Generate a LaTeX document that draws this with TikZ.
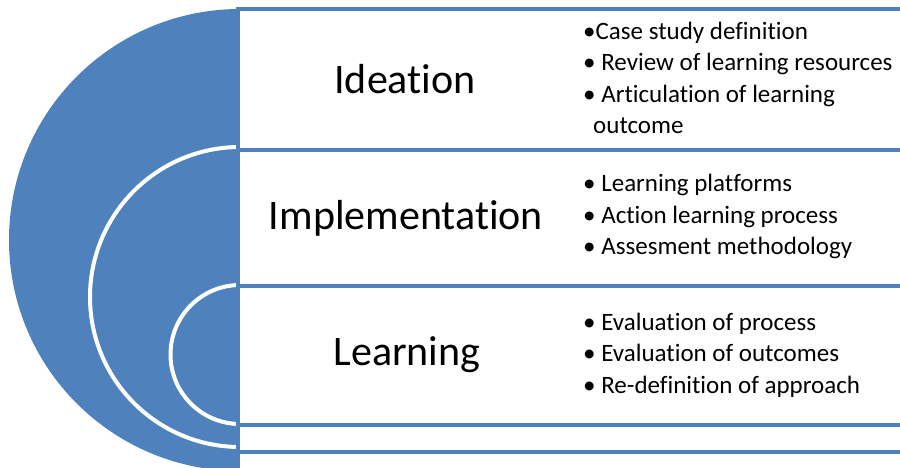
\documentclass[tikz,border=0pt]{standalone}
\usepackage{fontspec}
\setmainfont{Carlito}[RawFeature=-liga]
\definecolor{ringblue}{RGB}{79,129,189}

\begin{document}
\begin{tikzpicture}[
  x=1pt, y=-1pt,
  tier/.style={draw=ringblue, line width=4pt, fill=white},
  ring/.style={draw=white, line width=4pt},
  title/.style={font=\fontsize{42}{50}\selectfont, inner sep=0pt},
  points/.style={font=\fontsize{25}{31.5}\selectfont, align=left,
                 anchor=west, inner sep=0pt}
]
  \clip (0,0) rectangle (900,468);

  % nested half discs
  \fill[ringblue] (240,9) arc[start angle=270, end angle=90, radius=231] -- cycle;
  \draw[ring] (240,147) arc[start angle=270, end angle=90, radius=150];
  \draw[ring] (240,285) arc[start angle=270, end angle=90, radius=69.5];

  % tiers
  \draw[tier] (238,9) rectangle (930,490);
  \draw[tier] (238,150) rectangle (930,452);
  \draw[tier] (238,286) rectangle (930,425);

  \node[title] (ideation) at (405,79) {Ideation};
  \node[title] (implementation) at (406,218) {Implementation};
  \node[title] (learning) at (407,355) {Learning};

  \node[points] (ideationpts) at (583,78)
    {•Case study definition\\• Review of learning resources\\%
     • Articulation of learning\\\hspace*{10pt}outcome};
  \node[points] (implementationpts) at (583,216.5)
    {• Learning platforms\\• Action learning process\\• Assesment methodology};
  \node[points] (learningpts) at (583,355)
    {• Evaluation of process\\• Evaluation of outcomes\\• Re-definition of approach};
\end{tikzpicture}
\end{document}
